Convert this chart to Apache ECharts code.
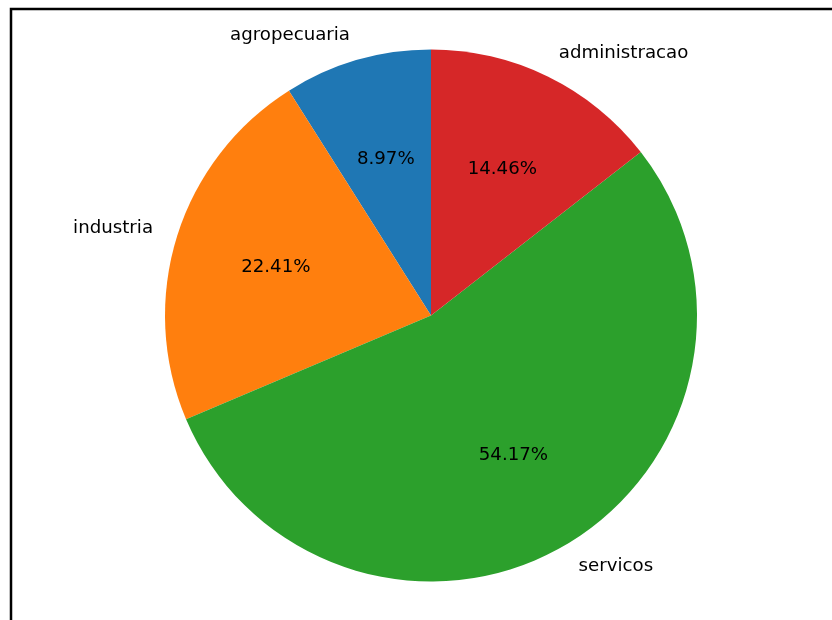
<!DOCTYPE html>
<html>
<head>
<meta charset="utf-8">
<script src="https://cdn.jsdelivr.net/npm/echarts@6/dist/echarts.min.js"></script>
<style>
html,body{margin:0;padding:0;background:#fff;}
#chart{width:832px;height:620px;}
</style>
</head>
<body>
<div id="chart"></div>
<script>
const categories = ['agropecuaria', 'industria', 'servicos', 'administracao'];
const shares = [8.97, 22.41, 54.17, 14.46];
const colors = ['#1f77b4', '#ff7f0e', '#2ca02c', '#d62728'];

const R = 266;
const center = [431, 315.5];
const FONT = 'DejaVu Sans';
const FS = 18.2;

const data = categories.map((c, i) => ({ name: c, value: shares[i], itemStyle: { color: colors[i] } }));

const chart = echarts.init(document.getElementById('chart'), null, { renderer: 'canvas' });
chart.setOption({
  animation: false,
  backgroundColor: '#ffffff',
  graphic: [{
    type: 'rect',
    shape: { x: 11, y: 9, width: 900, height: 700 },
    style: { fill: 'none', stroke: '#000', lineWidth: 2.5 },
    silent: true
  }],
  series: [
    {
      type: 'pie',
      center: center,
      radius: [0, R],
      startAngle: 90,
      clockwise: false,
      avoidLabelOverlap: false,
      silent: true,
      data: data,
      itemStyle: { borderWidth: 0 },
      emphasis: { disabled: true },
      label: {
        show: true,
        position: 'outside',
        formatter: '{b}',
        fontFamily: FONT,
        fontSize: FS,
        color: '#000',
        distanceToLabelLine: 0,
        alignTo: 'none'
      },
      labelLine: { show: false, length: R * 0.095, length2: 0 }
    },
    {
      type: 'pie',
      center: center,
      radius: [0, R * 1.2],
      startAngle: 90,
      clockwise: false,
      avoidLabelOverlap: false,
      silent: true,
      z: 5,
      data: data.map(d => ({ name: d.name, value: d.value, itemStyle: { color: 'rgba(0,0,0,0)' } })),
      itemStyle: { borderWidth: 0 },
      emphasis: { disabled: true },
      label: {
        show: true,
        position: 'inside',
        formatter: p => p.value.toFixed(2) + '%',
        fontFamily: FONT,
        fontSize: FS,
        color: '#000'
      },
      labelLine: { show: false }
    }
  ]
});
</script>
</body>
</html>
